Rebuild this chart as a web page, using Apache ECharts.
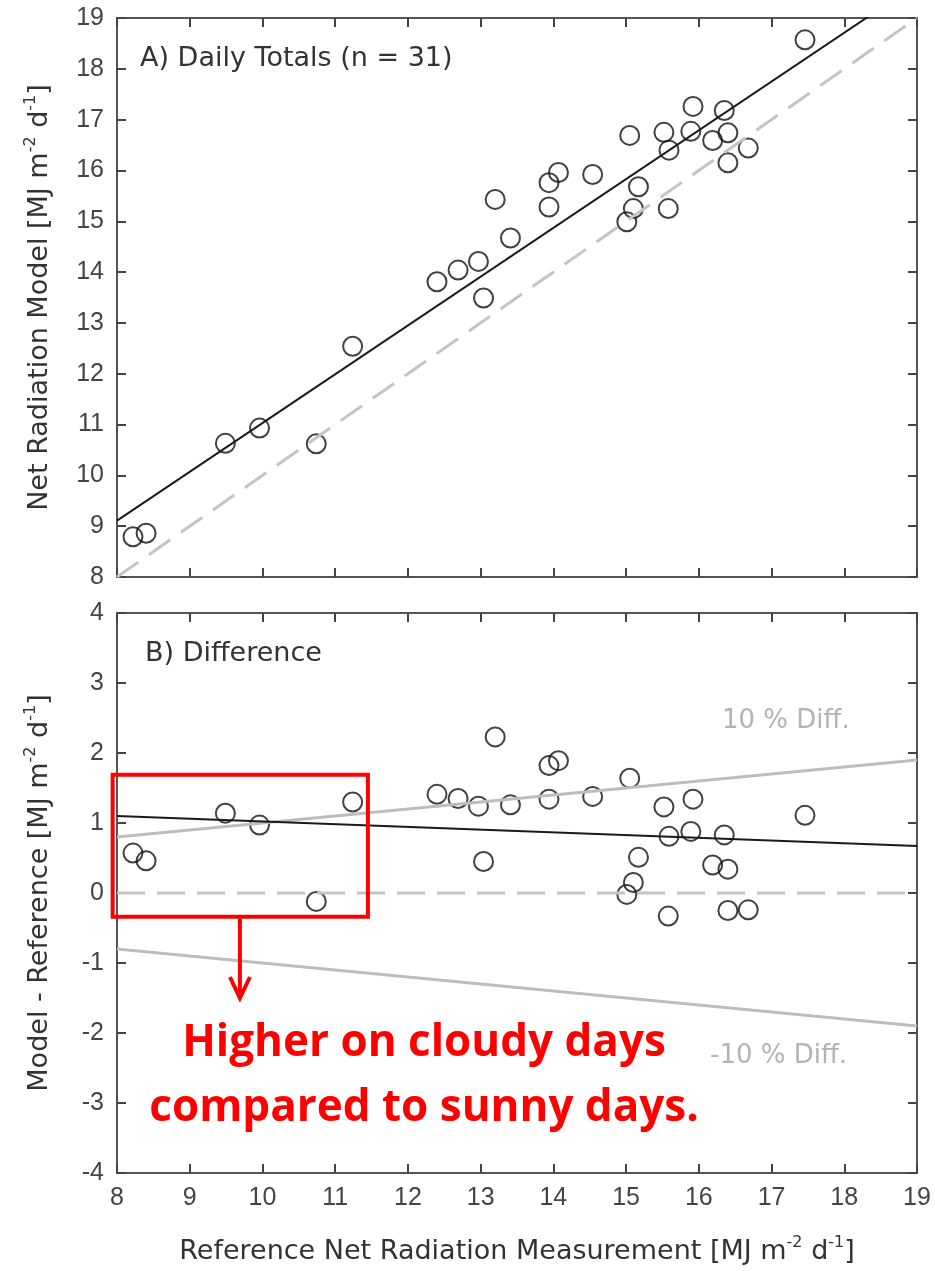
<!DOCTYPE html>
<html>
<head>
<meta charset="utf-8">
<script src="https://cdn.jsdelivr.net/npm/echarts@6/dist/echarts.min.js"></script>
<style>
  html, body { margin: 0; padding: 0; background: #ffffff; }
  #chart { width: 935px; height: 1271px; }
</style>
</head>
<body>
<div id="chart"></div>
<script>
// Daily net radiation totals, one entry per day (n = 31), MJ m-2 d-1
const referenceNet = [
  8.22, 8.40, 9.49, 9.96, 10.74, 11.24, 12.40, 12.69, 12.97, 13.04,
  13.20, 13.41, 13.94, 13.94, 14.07, 14.54, 15.05, 15.01, 15.10, 15.17,
  15.52, 15.59, 15.58, 15.92, 15.89, 16.19, 16.35, 16.40, 16.40, 16.68,
  17.46
];
const modelNet = [
  8.79, 8.86, 10.63, 10.93, 10.62, 12.54, 13.81, 14.04, 14.21, 13.49,
  15.43, 14.67, 15.76, 15.28, 15.96, 15.92, 16.69, 14.99, 15.25, 15.68,
  16.75, 16.40, 15.25, 17.26, 16.77, 16.59, 17.18, 16.74, 16.15, 16.44,
  18.57
];

// Reference lines (endpoints in data units)
const oneToOne = [[8, 8], [19, 19]];
const fitDaily = [[8, 9.11], [19, 19.67]];
const zeroLine = [[8, 0], [19, 0]];
const fitDiff = [[8, 1.10], [19, 0.67]];
const plusTen = [[8, 0.8], [19, 1.9]];
const minusTen = [[8, -0.8], [19, -1.9]];

// Axis ranges
const xRange = { min: 8, max: 19, interval: 1 };
const yDailyRange = { min: 8, max: 19, interval: 1 };
const yDiffRange = { min: -4, max: 4, interval: 1 };

// Highlight box and arrow (data units of the difference panel)
const cloudyBox = { x0: 7.94, x1: 11.45, y0: -0.34, y1: 1.69 };
const arrowPath = { x: 9.69, yFrom: -0.34, yTo: -1.50 };

const dailyPoints = referenceNet.map((r, i) => [r, modelNet[i]]);
const diffPoints = referenceNet.map((r, i) => [r, +(modelNet[i] - r).toFixed(2)]);

const AXIS_COLOR = '#555555';
const LABEL_FONT = 'Liberation Sans';
const TITLE_FONT = 'DejaVu Sans';

const unitRich = {
  t: { fontSize: 27, fontFamily: TITLE_FONT, color: '#333333', lineHeight: 34, verticalAlign: 'middle' },
  s: { fontSize: 16, fontFamily: TITLE_FONT, color: '#333333', lineHeight: 16, verticalAlign: 'top' }
};

function frameAxis(gridIndex, range, position, withLabels, extra) {
  return Object.assign({
    type: 'value',
    gridIndex: gridIndex,
    position: position,
    min: range.min,
    max: range.max,
    interval: range.interval,
    axisLine: { show: true, onZero: false, lineStyle: { color: AXIS_COLOR, width: 2 } },
    axisTick: { show: true, inside: true, length: 9, lineStyle: { color: '#444444', width: 2 } },
    axisLabel: {
      show: withLabels, color: '#444444', fontSize: 25, fontFamily: LABEL_FONT, margin: 13
    },
    splitLine: { show: false }
  }, extra || {});
}

const chart = echarts.init(document.getElementById('chart'), null, { renderer: 'canvas' });

const option = {
  animation: false,
  backgroundColor: '#ffffff',
  grid: [
    { left: 117, top: 18, width: 800, height: 559 },
    { left: 117, top: 613, width: 800, height: 560 }
  ],
  xAxis: [
    frameAxis(0, xRange, 'bottom', false),
    frameAxis(0, xRange, 'top', false),
    frameAxis(1, xRange, 'bottom', true, {
      name: '{t|Reference Net Radiation Measurement [MJ m}{s|-2}{t| d}{s|-1}{t|]}',
      nameLocation: 'middle',
      nameGap: 62,
      nameTextStyle: { rich: unitRich }
    }),
    frameAxis(1, xRange, 'top', false)
  ],
  yAxis: [
    frameAxis(0, yDailyRange, 'left', true, {
      name: '{t|Net Radiation Model [MJ m}{s|-2}{t| d}{s|-1}{t|]}',
      nameLocation: 'middle',
      nameRotate: 90,
      nameGap: 60,
      nameTextStyle: { rich: unitRich }
    }),
    frameAxis(0, yDailyRange, 'right', false),
    frameAxis(1, yDiffRange, 'left', true, {
      name: '{t|Model - Reference [MJ m}{s|-2}{t| d}{s|-1}{t|]}',
      nameLocation: 'middle',
      nameRotate: 90,
      nameGap: 60,
      nameTextStyle: { rich: unitRich }
    }),
    frameAxis(1, yDiffRange, 'right', false)
  ],
  series: [
    // Panel A: daily totals
    {
      type: 'line', xAxisIndex: 0, yAxisIndex: 0, data: oneToOne, symbol: 'none', silent: true,
      lineStyle: { color: '#c4c4c4', width: 3, type: [26, 13] }, clip: true
    },
    {
      type: 'line', xAxisIndex: 0, yAxisIndex: 0, data: fitDaily, symbol: 'none', silent: true,
      lineStyle: { color: '#1a1a1a', width: 2 }, clip: true
    },
    {
      type: 'scatter', xAxisIndex: 0, yAxisIndex: 0, data: dailyPoints, symbol: 'circle', symbolSize: 19,
      itemStyle: { color: 'rgba(0,0,0,0)', borderColor: '#111111', borderWidth: 2 }, silent: true
    },
    // Panel B: difference
    {
      type: 'line', xAxisIndex: 2, yAxisIndex: 2, data: zeroLine, symbol: 'none', silent: true,
      lineStyle: { color: '#c4c4c4', width: 3, type: [28, 12] }
    },
    {
      type: 'line', xAxisIndex: 2, yAxisIndex: 2, data: plusTen, symbol: 'none', silent: true,
      lineStyle: { color: '#bdbdbd', width: 3 }
    },
    {
      type: 'line', xAxisIndex: 2, yAxisIndex: 2, data: minusTen, symbol: 'none', silent: true,
      lineStyle: { color: '#bdbdbd', width: 3 }
    },
    {
      type: 'line', xAxisIndex: 2, yAxisIndex: 2, data: fitDiff, symbol: 'none', silent: true,
      lineStyle: { color: '#1a1a1a', width: 2 }
    },
    {
      type: 'scatter', xAxisIndex: 2, yAxisIndex: 2, data: diffPoints, symbol: 'circle', symbolSize: 19,
      itemStyle: { color: 'rgba(0,0,0,0)', borderColor: '#111111', borderWidth: 2 }, silent: true
    }
  ]
};

chart.setOption(option);

// Annotations placed from data units of the difference panel
const toPx = (x, y) => chart.convertToPixel({ xAxisIndex: 2, yAxisIndex: 2 }, [x, y]);
const boxTL = toPx(cloudyBox.x0, cloudyBox.y1);
const boxBR = toPx(cloudyBox.x1, cloudyBox.y0);
const arrowStart = toPx(arrowPath.x, arrowPath.yFrom);
const arrowEnd = toPx(arrowPath.x, arrowPath.yTo);

const grayText = { fontSize: 26, fontFamily: TITLE_FONT, fill: '#b3b3b3' };
const panelText = { fontSize: 27, fontFamily: TITLE_FONT, fill: '#333333' };
const redText = { fontSize: 44, fontFamily: 'Open Sans', fontWeight: 'bold', fill: '#ff0000', align: 'center', verticalAlign: 'middle' };

chart.setOption({
  graphic: [
    { type: 'text', left: 140, top: 45, style: Object.assign({ text: 'A) Daily Totals (n = 31)' }, panelText) },
    { type: 'text', left: 145, top: 640, style: Object.assign({ text: 'B) Difference' }, panelText) },
    { type: 'text', left: 722, top: 708, style: Object.assign({ text: '10 % Diff.' }, grayText) },
    { type: 'text', left: 710, top: 1043, style: Object.assign({ text: '-10 % Diff.' }, grayText) },
    {
      type: 'rect', z: 100,
      shape: { x: boxTL[0], y: boxTL[1], width: boxBR[0] - boxTL[0], height: boxBR[1] - boxTL[1] },
      style: { fill: 'none', stroke: '#ff0000', lineWidth: 4 }
    },
    {
      type: 'line', z: 100,
      shape: { x1: arrowStart[0], y1: arrowStart[1], x2: arrowEnd[0], y2: arrowEnd[1] },
      style: { stroke: '#ff0000', lineWidth: 4 }
    },
    {
      type: 'polyline', z: 100,
      shape: { points: [[arrowEnd[0] - 10, arrowEnd[1] - 21], [arrowEnd[0], arrowEnd[1]], [arrowEnd[0] + 10, arrowEnd[1] - 21]] },
      style: { stroke: '#ff0000', lineWidth: 4, fill: 'none', lineJoin: 'miter' }
    },
    { type: 'text', z: 100, x: 424, y: 1043, style: Object.assign({ text: 'Higher on cloudy days' }, redText) },
    { type: 'text', z: 100, x: 424, y: 1108, style: Object.assign({ text: 'compared to sunny days.' }, redText) }
  ]
});
</script>
</body>
</html>
